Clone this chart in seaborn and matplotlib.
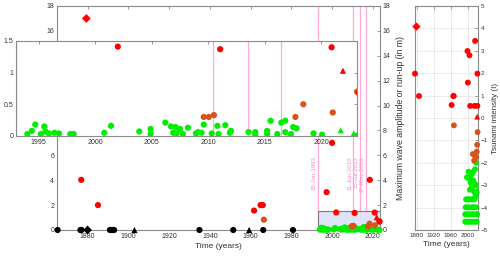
import numpy as np
import pandas as pd
import matplotlib
matplotlib.use("Agg")
import matplotlib.pyplot as plt
from matplotlib.patches import Rectangle
import seaborn as sns

# ---- events: year, max wave amplitude / run-up (m) ----
green_year = [1994.0, 1994.4, 1994.7, 1995.2, 1995.5, 1995.6, 1995.9, 1996.4, 1996.8,
              1997.8, 1998.1, 2000.8, 2001.4, 2003.9, 2004.9, 2004.9, 2006.2, 2006.7,
              2006.9, 2007.1, 2007.2, 2007.5, 2007.75, 2008.2, 2008.9, 2009.1, 2009.4,
              2009.6, 2010.3, 2010.8, 2010.9, 2011.5, 2011.9, 2012.0, 2013.55, 2014.15,
              2014.15, 2015.2, 2015.2, 2015.5, 2016.1, 2016.45, 2016.8, 2016.8, 2017.3,
              2017.5, 2017.8, 2019.3, 2020.05, 2023.2]
green_height = [0.03, 0.08, 0.18, 0.03, 0.15, 0.07, 0.04, 0.05, 0.04,
                0.03, 0.03, 0.05, 0.16, 0.07, 0.11, 0.03, 0.21, 0.15,
                0.05, 0.14, 0.04, 0.11, 0.03, 0.13, 0.04, 0.06, 0.05,
                0.18, 0.04, 0.16, 0.03, 0.17, 0.05, 0.08, 0.06, 0.06,
                0.03, 0.08, 0.03, 0.24, 0.03, 0.21, 0.24, 0.06, 0.03,
                0.14, 0.12, 0.04, 0.02, 0.01]
green_tri_year = [2021.7, 2022.85]
green_tri_height = [0.09, 0.04]

orange_year = [1966.5, 2009.6, 2010.05, 2010.5, 2017.7, 2018.4, 2021.0, 2023.15]
orange_height = [0.83, 0.30, 0.30, 0.33, 0.30, 0.50, 0.37, 0.70]

red_year = [1876.9, 1885.1, 1961.7, 1964.9, 1966.0, 1997.3, 2000.0, 2002.0, 2011.05,
            2018.5, 2020.9, 2023.3]
red_height = [4.03, 2.0, 1.56, 2.0, 2.0, 3.04, 7.0, 1.41, 1.37, 4.03, 1.40, 0.68]
red_tri_year = [2021.9]
red_tri_height = [1.03]
red_dia_year = [1879.4]
red_dia_height = [17.0]

black_year = [1865.3, 1876.5, 1877.0, 1891.0, 1892.0, 1893.0, 1934.9, 1951.5, 1966.2, 1980.8]
black_dia_year = [1880.0]
black_tri_year = [1903.0, 1959.3]

# ---- tsunami intensity (right panel) ----
int_red_year = [1876.0, 1885.4, 1962.0, 1966.0, 1967.0, 1999.3, 2004.0, 2017.2, 2000.2,
                2022.6, 2005.6, 2015.6, 2022.6]
int_red_val = [1.98, 0.98, 0.58, 0.98, 0.98, 2.99, 2.80, 3.44, 1.58, 1.98, 0.54, 0.54, 0.54]
int_red_dia_year = [1879.3]
int_red_dia_val = [4.08]
int_red_tri_year = [2022.0]
int_red_tri_val = [0.06]
int_orange_year = [1967.4, 2023.0, 2022.0, 2021.0, 2017.2, 2011.9, 2015.0, 2019.0]
int_orange_val = [-0.33, -0.63, -1.2, -1.5, -1.70, -1.61, -1.9, -1.75]
int_green_year = [2019.5, 2001.6, 2017.0, 2013.0, 2009.5, 2005.6, 2001.6, 1998.0,
                  2013.0, 2007.0, 2017.0, 2019.0, 2010.0, 2005.0, 2015.0, 2020.0, 2018.0,
                  1996.0, 2000.0, 2003.0, 2008.0, 2012.0, 2016.0,
                  1995.0, 1999.0, 2004.0, 2010.0, 2014.0, 2019.0,
                  1994.0, 1997.0, 2002.0, 2007.0, 2011.0, 2015.0, 2020.0, 2022.0,
                  1994.0, 1997.0, 2000.0, 2004.0, 2008.0, 2013.0, 2017.0, 2021.0]
int_green_val = [-2.0, -2.40, -2.29, -2.40, -2.5, -2.62, -2.69, -2.65,
                 -2.8, -2.9, -2.95, -3.0, -3.1, -3.2, -3.3, -3.35, -3.5,
                 -3.63, -3.63, -3.63, -3.63, -3.63, -3.63,
                 -3.99, -3.99, -3.99, -3.99, -3.99, -3.99,
                 -4.30, -4.30, -4.30, -4.30, -4.30, -4.30, -4.30, -4.30,
                 -4.63, -4.63, -4.63, -4.63, -4.63, -4.63, -4.63, -4.63]
int_green_tri_year = [2022.0]
int_green_tri_val = [-3.2]

# reference dates
line_dates = [1993.04, 2010.44, 2013.54, 2016.40]
line_labels = ["15-Jan-1993", "11-Jun-2010", "15-Jul-2013", "27-May-2016"]

COLORS = {"red": "#ff0000", "orange": "#d95319", "green": "#00ee00", "black": "#000000"}
MARKERS = {"o": "o", "^": "^", "D": "D"}
PINK = "#ffaad5"
SPINE = "#8a8a8a"
TXT = "#333333"


def frame(groups):
    rows = []
    for xs, ys, c, m in groups:
        for x, y in zip(xs, ys):
            rows.append({"x": x, "y": y, "c": c, "m": m})
    return pd.DataFrame(rows)


events = frame([
    (black_year, [0] * len(black_year), "black", "o"),
    (black_dia_year, [0] * len(black_dia_year), "black", "D"),
    (black_tri_year, [0] * len(black_tri_year), "black", "^"),
    (green_year, green_height, "green", "o"),
    (green_tri_year, green_tri_height, "green", "^"),
    (orange_year, orange_height, "orange", "o"),
    (red_year, red_height, "red", "o"),
    (red_tri_year, red_tri_height, "red", "^"),
    (red_dia_year, red_dia_height, "red", "D"),
])
intensity = frame([
    (int_green_year, int_green_val, "green", "o"),
    (int_green_tri_year, int_green_tri_val, "green", "^"),
    (int_orange_year, int_orange_val, "orange", "o"),
    (int_red_year, int_red_val, "red", "o"),
    (int_red_tri_year, int_red_tri_val, "red", "^"),
    (int_red_dia_year, int_red_dia_val, "red", "D"),
])

sns.set_style("white")
plt.rcParams["font.family"] = ["Liberation Sans", "DejaVu Sans"]


def style_axes(ax, fs=5):
    for s in ax.spines.values():
        s.set_color(SPINE)
        s.set_linewidth(0.8)
    ax.tick_params(direction="in", length=2.5, width=0.6, color=SPINE,
                   labelsize=fs, labelcolor=TXT, pad=2, top=True, right=True)


def scatter(df, ax, size=20):
    sns.scatterplot(data=df, x="x", y="y", hue="c", style="m", palette=COLORS,
                    markers=MARKERS, s=size, linewidth=0, legend=False, ax=ax,
                    clip_on=False, zorder=5)
    ax.set_xlabel("")
    ax.set_ylabel("")


fig = plt.figure(figsize=(5.0, 2.56), dpi=100)

# ---- main axes ----
ax = fig.add_axes([0.114, 0.1016, 0.646, 0.875])
style_axes(ax)
for d in line_dates:
    ax.axvline(d, color=PINK, lw=0.9, zorder=1)
for d, lab in zip(line_dates, line_labels):
    ax.text(d - 0.6, 5.9, lab, rotation=90, ha="right", va="top",
            fontsize=4.3, color="#ff88c8", zorder=2)
ax.add_patch(Rectangle((1993.0, 0), 31, 1.5, facecolor="#dde0f8",
                       edgecolor="#707070", lw=0.8, alpha=0.9, zorder=3))
scatter(events, ax)
ax.set_xlim(1865, 2023.5)
ax.set_ylim(0, 18)
ax.set_xticks(np.arange(1880, 2021, 20))
ax.set_yticks(np.arange(0, 19, 2))
ax.tick_params(labelleft=True, labelright=True)
ax.set_xlabel("Time (years)", fontsize=6, color=TXT, labelpad=2)
ax.yaxis.set_label_position("right")
ax.set_ylabel("Maximum wave amplitude or run-up (in m)", fontsize=6.3, color=TXT,
              labelpad=4)

# ---- zoomed inset ----
axi = fig.add_axes([0.032, 0.469, 0.681, 0.371], zorder=3)
axi.set_facecolor("white")
style_axes(axi)
for d in line_dates:
    axi.axvline(d, color=PINK, lw=0.9, zorder=1)
scatter(events, axi)
for coll in axi.collections:
    coll.set_clip_on(True)
axi.set_xlim(1993, 2023.1)
axi.set_ylim(0, 1.5)
axi.set_xticks(np.arange(1995, 2021, 5))
axi.set_yticks([0, 0.5, 1, 1.5])
axi.set_yticklabels(["0", "0.5", "1", "1.5"])

# ---- intensity panel ----
axr = fig.add_axes([0.83, 0.1016, 0.126, 0.875])
style_axes(axr, fs=4.5)
axr.grid(True, color="#e6e6e6", lw=0.6)
axr.set_axisbelow(True)
scatter(intensity, axr, size=18)
axr.set_xlim(1876, 2024)
axr.set_ylim(-5, 5)
axr.set_xticks([1880, 1920, 1960, 2000])
axr.set_yticks(np.arange(-5, 6, 1))
axr.tick_params(labelleft=False, labelright=True)
axr.set_xlabel("Time (years)", fontsize=6, color=TXT, labelpad=2)
axr.yaxis.set_label_position("right")
axr.set_ylabel("Tsunami intensity (I)", fontsize=5.8, color=TXT, labelpad=3)

fig.savefig("out.png", dpi=100, facecolor="white")
